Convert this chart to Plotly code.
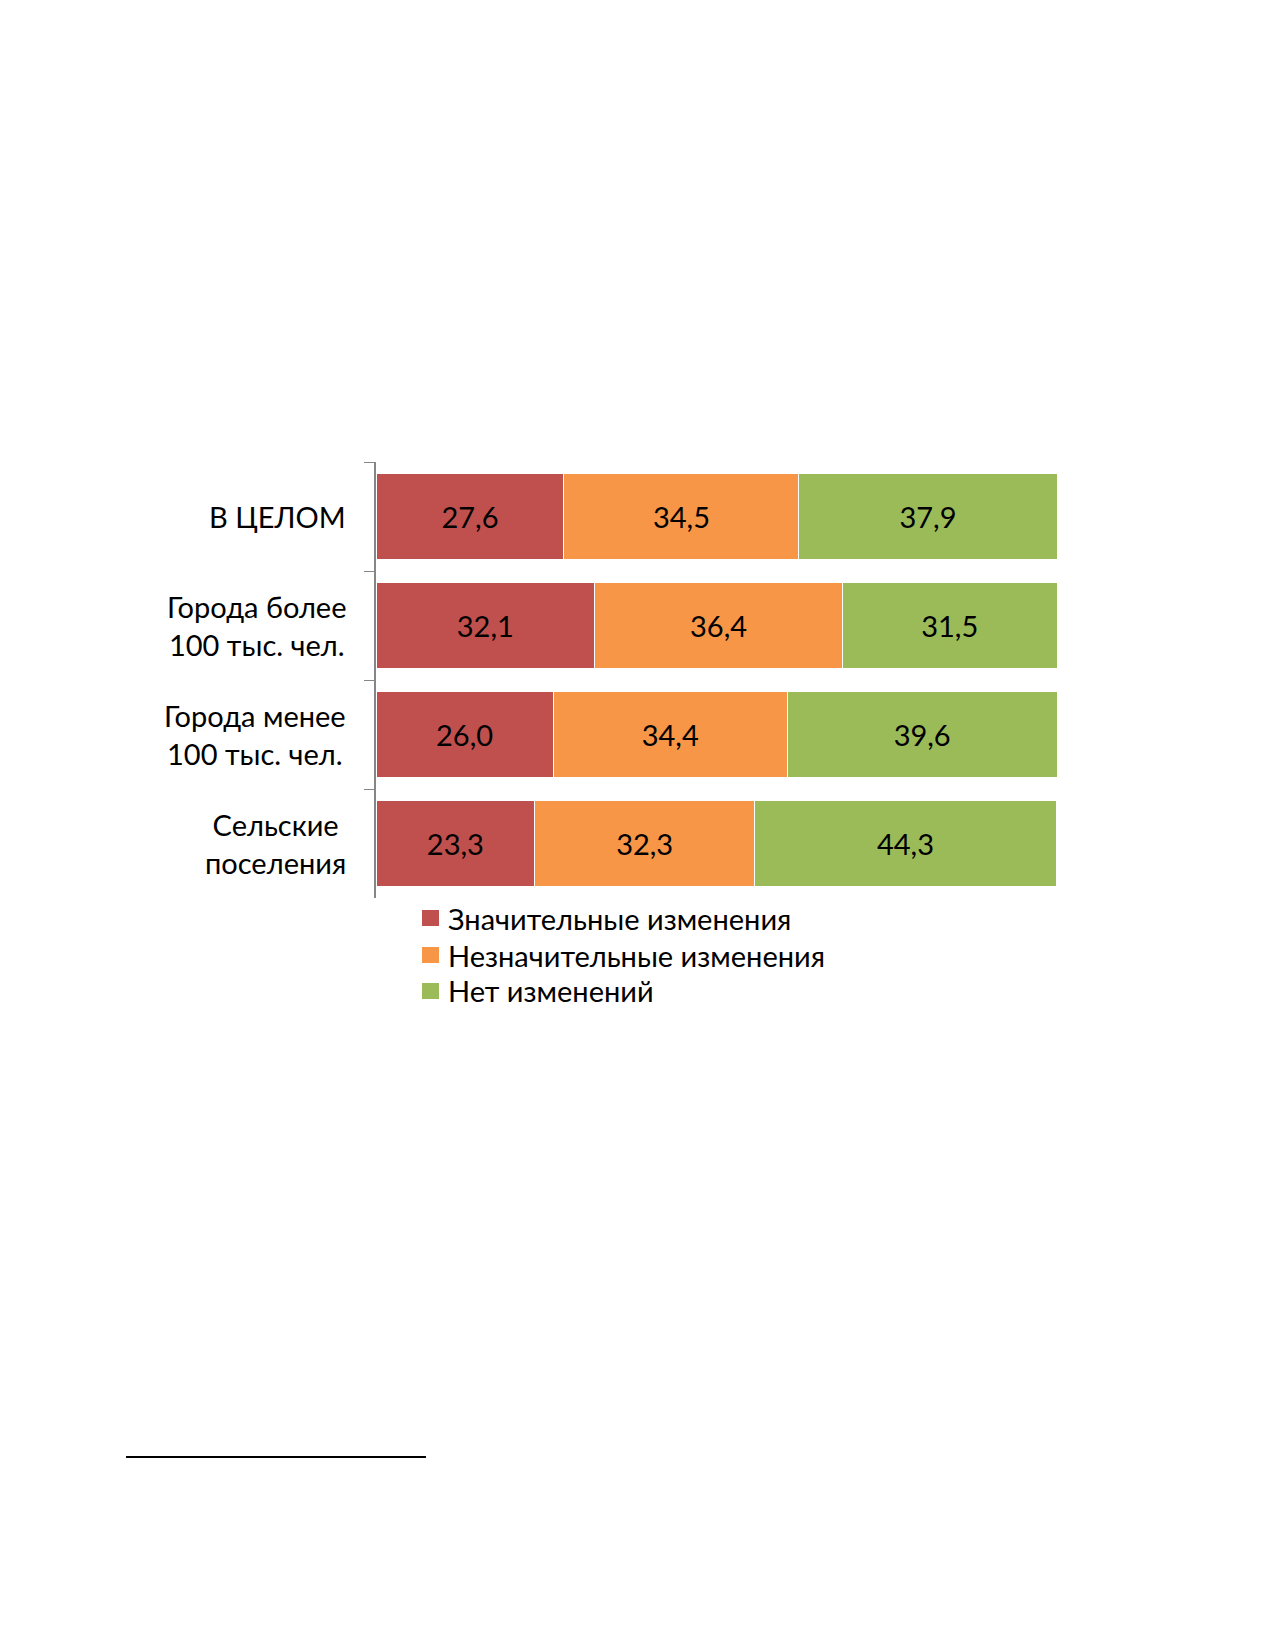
import plotly.graph_objects as go

# data
categories = ["В ЦЕЛОМ", "Города более<br>100 тыс. чел.", "Города менее<br>100 тыс. чел.", "Сельские<br>поселения"]
series_names = ["Значительные изменения", "Незначительные изменения", "Нет изменений"]
significant = [27.6, 32.1, 26.0, 23.3]
minor = [34.5, 36.4, 34.4, 32.3]
no_change = [37.9, 31.5, 39.6, 44.3]

colors = ["#C0504D", "#F79646", "#9BBB59"]
FONT = "Lato"
FS = 29

W, H = 1275, 1650
px_left, px_right = 368, 1049
px_top, px_bottom = 454, 890

fig = go.Figure()
for name, vals, col in zip(series_names, [significant, minor, no_change], colors):
    fig.add_trace(go.Bar(
        y=categories, x=vals, name=name, orientation="h",
        marker=dict(color=col, line=dict(color="white", width=1)),
        texttemplate="%{x:.1f}", textposition="inside",
        insidetextanchor="middle",
        textfont=dict(family=FONT, size=FS, color="black"),
        hoverinfo="x+name", showlegend=False,
    ))

# category labels, centred multi-line blocks to the left of the axis
annotations = []
for c in categories:
    annotations.append(dict(
        x=(px_left - 28) / W, xref="paper", y=c, yref="y",
        text=c, showarrow=False, xanchor="right", align="center",
        font=dict(family=FONT, size=FS, color="black"),
    ))

# legend below the bars, drawn by hand so the row spacing matches
shapes = []
legend_rows = [910, 947, 983]
for name, col, yc in zip(series_names, colors, legend_rows):
    shapes.append(dict(
        type="rect", xref="paper", yref="paper", line=dict(width=0), fillcolor=col,
        x0=414 / W, x1=431 / W, y0=1 - (yc + 8) / H, y1=1 - (yc - 8) / H,
    ))
    annotations.append(dict(
        x=438 / W, xref="paper", y=1 - yc / H, yref="paper",
        text=name, showarrow=False, xanchor="left", yanchor="middle",
        font=dict(family=FONT, size=FS, color="black"),
    ))

# footnote rule
shapes.append(dict(
    type="line", xref="paper", yref="paper",
    x0=118 / W, x1=418 / W, y0=1 - 1449 / H, y1=1 - 1449 / H,
    line=dict(color="black", width=2),
))

fig.update_layout(
    width=W, height=H,
    barmode="stack", bargap=0.21,
    separators=", ",
    paper_bgcolor="white", plot_bgcolor="white",
    margin=dict(l=0, r=0, t=0, b=0),
    font=dict(family=FONT, size=FS, color="black"),
    xaxis=dict(
        domain=[px_left / W, px_right / W],
        range=[0, 100], visible=False, fixedrange=True,
    ),
    yaxis=dict(
        domain=[(H - px_bottom) / H, (H - px_top) / H],
        autorange="reversed", showticklabels=False,
        showline=True, linecolor="#868686", linewidth=1.5,
        ticks="outside", tickson="boundaries", ticklen=10, tickcolor="#868686",
        showgrid=False, zeroline=False,
    ),
    showlegend=False,
    annotations=annotations,
    shapes=shapes,
)

fig.write_html("out.html")
